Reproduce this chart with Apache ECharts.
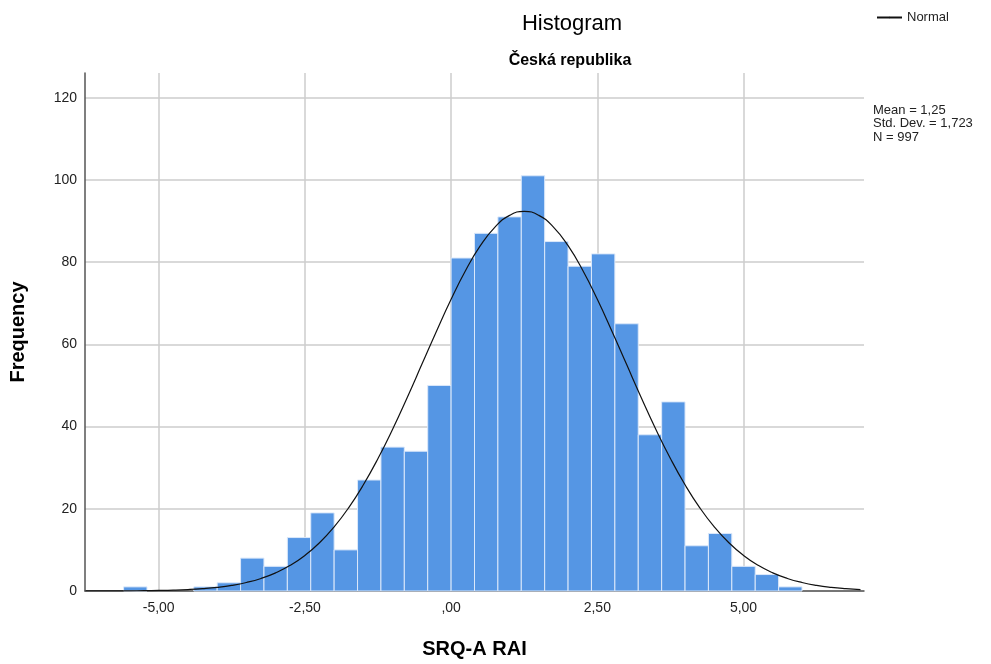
<!DOCTYPE html>
<html><head><meta charset="utf-8">
<script src="https://cdn.jsdelivr.net/npm/echarts@6/dist/echarts.min.js"></script>
<style>html,body{margin:0;padding:0;background:#fff}#c{width:991px;height:664px}</style>
</head><body><div id="c"></div>
<script>
// Histogram bins (lower edge, upper edge) and counts
var binStarts = [-5.6,-5.2,-4.8,-4.4,-4.0,-3.6,-3.2,-2.8,-2.4,-2.0,-1.6,-1.2,-0.8,-0.4,0.0,0.4,0.8,1.2,1.6,2.0,2.4,2.8,3.2,3.6,4.0,4.4,4.8,5.2,5.6];
var binEnds   = [-5.2,-4.8,-4.4,-4.0,-3.6,-3.2,-2.8,-2.4,-2.0,-1.6,-1.2,-0.8,-0.4,0.0,0.4,0.8,1.2,1.6,2.0,2.4,2.8,3.2,3.6,4.0,4.4,4.8,5.2,5.6,6.0];
var counts    = [1,0,0,1,2,8,6,13,19,10,27,35,34,50,81,87,91,101,85,79,82,65,38,46,11,14,6,4,1];
// Normal curve
var curveX = [-6.25,-6,-5.75,-5.5,-5.25,-5,-4.75,-4.5,-4.25,-4,-3.75,-3.5,-3.25,-3,-2.75,-2.5,-2.25,-2,-1.75,-1.5,-1.25,-1,-0.75,-0.5,-0.25,0,0.25,0.5,0.75,1,1.25,1.5,1.75,2,2.25,2.5,2.75,3,3.25,3.5,3.75,4,4.25,4.5,4.75,5,5.25,5.5,5.75,6,6.25,6.5,6.75,7];
var curveY = [0.01,0.01,0.02,0.04,0.08,0.13,0.21,0.35,0.57,0.89,1.37,2.07,3.05,4.41,6.24,8.65,11.73,15.59,20.28,25.84,32.23,39.36,47.08,55.13,63.21,70.97,78.03,83.99,88.53,91.37,92.34,91.37,88.53,83.99,78.03,70.97,63.21,55.13,47.08,39.36,32.23,25.84,20.28,15.59,11.73,8.65,6.24,4.41,3.05,2.07,1.37,0.89,0.57,0.35];
// Tick values and labels
var xTickValues = [-5,-2.5,0,2.5,5];
var xTickLabels = ['-5,00','-2,50',',00','2,50','5,00'];
var yTickValues = [0,20,40,60,80,100,120];
var yTickLabels = ['0','20','40','60','80','100','120'];
var statLines = ['Mean = 1,25','Std. Dev. = 1,723','N = 997'];

var FONT = 'Liberation Sans, Arial, sans-serif';
var barData = binStarts.map(function(s,i){return [s, binEnds[i], counts[i]];});
var lineData = curveX.map(function(x,i){return [x, curveY[i]];});

var chart = echarts.init(document.getElementById('c'), null, {renderer:'canvas'});
chart.setOption({
  animation:false,
  backgroundColor:'#fff',
  grid:{left:85,right:127,top:73,bottom:71,containLabel:false},
  xAxis:{
    type:'value', min:-6.26, max:7.06,
    name:'SRQ-A RAI', nameLocation:'middle', nameGap:48,
    nameTextStyle:{fontFamily:FONT,fontSize:20,fontWeight:'bold',color:'#000'},
    axisLine:{show:true,onZero:false,lineStyle:{color:'#555',width:1.5}},
    axisTick:{show:false,customValues:xTickValues},
    axisLabel:{customValues:xTickValues,fontFamily:FONT,fontSize:14,color:'#222',margin:10,
      formatter:function(v){var i=xTickValues.indexOf(v);return i>=0?xTickLabels[i]:'';}},
    splitLine:{show:true,lineStyle:{color:'#cccccc',width:1.5}}
  },
  yAxis:{
    type:'value', min:0, max:126,
    name:'Frequency', nameLocation:'middle', nameGap:57, nameRotate:90,
    nameTextStyle:{fontFamily:FONT,fontSize:20,fontWeight:'bold',color:'#000'},
    axisLine:{show:true,onZero:false,lineStyle:{color:'#555',width:1.5}},
    axisTick:{show:false,customValues:yTickValues},
    axisLabel:{customValues:yTickValues,fontFamily:FONT,fontSize:14,color:'#222',margin:8,
      formatter:function(v){var i=yTickValues.indexOf(v);return i>=0?yTickLabels[i]:'';}},
    splitLine:{show:true,lineStyle:{color:'#cccccc',width:1.5}}
  },
  legend:{
    data:[{name:'Normal'}], left:871, top:6, itemWidth:25, itemHeight:2,
    textStyle:{fontFamily:FONT,fontSize:13,color:'#222'}, itemGap:4
  },
  series:[
    {
      type:'custom', name:'Bars', data:barData, encode:{x:[0,1],y:2},
      renderItem:function(params, api){
        var p0 = api.coord([api.value(0), api.value(2)]);
        var p1 = api.coord([api.value(1), 0]);
        if (api.value(2) <= 0) return null;
        return {type:'rect', shape:{x:p0[0], y:p0[1], width:p1[0]-p0[0], height:p1[1]-p0[1]},
          style:{fill:'#5596e4', stroke:'#dbe8fa', lineWidth:1}};
      },
      z:2
    },
    {
      type:'line', name:'Normal', data:lineData, smooth:true, symbol:'none',
      lineStyle:{color:'#111',width:1.2}, itemStyle:{color:'#111'}, z:3
    }
  ],
  graphic:[
    {type:'text', x:572, y:13, style:{text:'Histogram', fontFamily:FONT, fontSize:22, fill:'#000', textAlign:'center'}},
    {type:'text', x:570, y:53, style:{text:'Česká republika', fontFamily:FONT, fontSize:16, fontWeight:'bold', fill:'#000', textAlign:'center'}},
    {type:'text', x:873, y:103.5, style:{text:statLines.join('\n'), fontFamily:FONT, fontSize:13, lineHeight:13.5, fill:'#222'}}
  ]
});
</script></body></html>
